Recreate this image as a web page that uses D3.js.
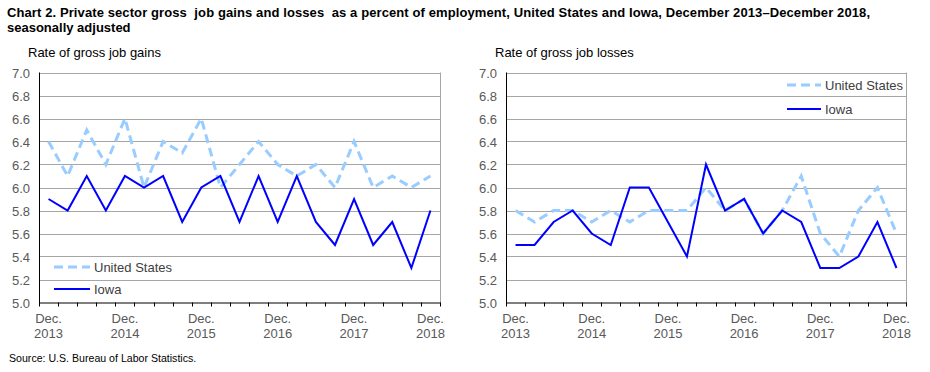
<!DOCTYPE html>
<html lang="en">
<head>
<meta charset="UTF-8">
<title>Chart 2. Gross job gains and losses, United States and Iowa</title>
<script src="https://d3js.org/d3.v7.min.js"></script>
<style>
    body { margin: 0; background: #fff; }
    svg text { font-family: "Liberation Sans", Arial, sans-serif; white-space: pre; }
</style>
</head>
<body>
<svg width="930" height="372"></svg>
<script>
    // quarters, Dec 2013 .. Dec 2018
    const quarters = [
        "Dec. 2013", "Mar. 2014", "Jun. 2014", "Sep. 2014", "Dec. 2014",
        "Mar. 2015", "Jun. 2015", "Sep. 2015", "Dec. 2015",
        "Mar. 2016", "Jun. 2016", "Sep. 2016", "Dec. 2016",
        "Mar. 2017", "Jun. 2017", "Sep. 2017", "Dec. 2017",
        "Mar. 2018", "Jun. 2018", "Sep. 2018", "Dec. 2018"
    ];
    const gainsUS   = [6.4, 6.1, 6.5, 6.2, 6.6, 6.0, 6.4, 6.3, 6.6, 6.0, 6.2, 6.4, 6.2, 6.1, 6.2, 6.0, 6.4, 6.0, 6.1, 6.0, 6.1];
    const gainsIowa = [5.9, 5.8, 6.1, 5.8, 6.1, 6.0, 6.1, 5.7, 6.0, 6.1, 5.7, 6.1, 5.7, 6.1, 5.7, 5.5, 5.9, 5.5, 5.7, 5.3, 5.8];
    const lossesUS   = [5.8, 5.7, 5.8, 5.8, 5.7, 5.8, 5.7, 5.8, 5.8, 5.8, 6.0, 5.8, 5.9, 5.6, 5.8, 6.1, 5.6, 5.4, 5.8, 6.0, 5.6];
    const lossesIowa = [5.5, 5.5, 5.7, 5.8, 5.6, 5.5, 6.0, 6.0, 5.7, 5.4, 6.2, 5.8, 5.9, 5.6, 5.8, 5.7, 5.3, 5.3, 5.4, 5.7, 5.3];
    const yTicks = [5.0, 5.2, 5.4, 5.6, 5.8, 6.0, 6.2, 6.4, 6.6, 6.8, 7.0];
    const seriesNames = ["United States", "Iowa"];

    const usColor = "#99ccff";
    const iowaColor = "#0000ff";
    const gridColor = "#a6a6a6";
    const labelColor = "#595959";

    const svg = d3.select("svg");

    svg.append("text")
        .attr("x", 7).attr("y", 17)
        .attr("textLength", 863).attr("lengthAdjust", "spacing")
        .style("font-size", "13px").style("font-weight", "bold")
        .text("Chart 2. Private sector gross  job gains and losses  as a percent of employment, United States and Iowa, December 2013\u2013December 2018,");
    svg.append("text")
        .attr("x", 7).attr("y", 32)
        .style("font-size", "13px").style("font-weight", "bold")
        .text("seasonally adjusted");

    svg.append("text")
        .attr("x", 9).attr("y", 362)
        .style("font-size", "10.6px")
        .text("Source: U.S. Bureau of Labor Statistics.");

    function drawPanel(cfg) {
        const g = svg.append("g");
        const top = 72.5, bottom = 302.5;

        const x = d3.scaleBand().domain(quarters).range([cfg.left, cfg.right]).padding(0);
        const y = d3.scaleLinear().domain([5.0, 7.0]).range([bottom, top]);
        const cx = d => x(d) + x.bandwidth() / 2;

        g.append("text")
            .attr("x", cfg.left - 11).attr("y", 57)
            .style("font-size", "13px")
            .text(cfg.title);

        // gridlines
        g.selectAll(".grid").data(yTicks.slice(1)).enter().append("line")
            .attr("x1", cfg.left).attr("x2", cfg.right)
            .attr("y1", d => Math.round(y(d)) + 0.5).attr("y2", d => Math.round(y(d)) + 0.5)
            .attr("stroke", gridColor).attr("stroke-width", 1);
        g.append("line")
            .attr("x1", cfg.right + 0.5).attr("x2", cfg.right + 0.5)
            .attr("y1", top).attr("y2", bottom)
            .attr("stroke", gridColor);

        // y axis labels
        g.selectAll(".ylab").data(yTicks).enter().append("text")
            .attr("x", cfg.left - 9).attr("y", d => y(d) + 5)
            .attr("text-anchor", "end")
            .style("font-size", "13px").attr("fill", labelColor)
            .text(d => d.toFixed(1));

        // axes lines
        g.append("line")
            .attr("x1", cfg.left + 0.5).attr("x2", cfg.left + 0.5)
            .attr("y1", top).attr("y2", bottom + 0.5)
            .attr("stroke", "#000");
        g.append("line")
            .attr("x1", cfg.left).attr("x2", cfg.right + 1)
            .attr("y1", bottom + 0.5).attr("y2", bottom + 0.5)
            .attr("stroke", "#000");

        // category boundary ticks
        const bounds = quarters.map(q => x(q)).concat([cfg.right]);
        g.selectAll(".tick").data(bounds).enter().append("line")
            .attr("x1", d => Math.round(d) + 0.5).attr("x2", d => Math.round(d) + 0.5)
            .attr("y1", bottom).attr("y2", bottom + 4)
            .attr("stroke", "#000");

        // x labels for December quarters
        const decs = quarters.filter(q => q.startsWith("Dec."));
        g.selectAll(".xlab1").data(decs).enter().append("text")
            .attr("x", d => cx(d)).attr("y", 323)
            .attr("text-anchor", "middle")
            .style("font-size", "13px").attr("fill", labelColor)
            .text("Dec.");
        g.selectAll(".xlab2").data(decs).enter().append("text")
            .attr("x", d => cx(d)).attr("y", 338)
            .attr("text-anchor", "middle")
            .style("font-size", "13px").attr("fill", labelColor)
            .text(d => d.split(" ")[1]);

        const line = d3.line().x((d, i) => cx(quarters[i])).y(d => y(d));

        g.append("path").datum(cfg.us)
            .attr("fill", "none").attr("stroke", usColor)
            .attr("stroke-width", 3).attr("stroke-dasharray", "9,5")
            .attr("d", line);
        g.append("path").datum(cfg.iowa)
            .attr("fill", "none").attr("stroke", iowaColor)
            .attr("stroke-width", 2)
            .attr("d", line);

        // legend
        const lg = cfg.legend;
        seriesNames.forEach((name, i) => {
            const ly = lg.y + i * lg.gap;
            g.append("line")
                .attr("x1", lg.x).attr("x2", lg.x + lg.len)
                .attr("y1", ly).attr("y2", ly)
                .attr("stroke", i === 0 ? usColor : iowaColor)
                .attr("stroke-width", i === 0 ? 3 : 2)
                .attr("stroke-dasharray", i === 0 ? "9,5" : null);
            g.append("text")
                .attr("x", lg.x + lg.len + 4).attr("y", ly + 5)
                .style("font-size", "13px").attr("fill", "#404040")
                .text(name);
        });
    }

    drawPanel({
        left: 39, right: 440, title: "Rate of gross job gains",
        us: gainsUS, iowa: gainsIowa,
        legend: { x: 54, y: 267, gap: 22, len: 36 }
    });
    drawPanel({
        left: 506, right: 906, title: "Rate of gross job losses",
        us: lossesUS, iowa: lossesIowa,
        legend: { x: 787, y: 85, gap: 24, len: 34 }
    });
</script>
</body>
</html>
